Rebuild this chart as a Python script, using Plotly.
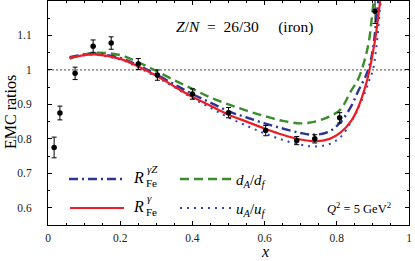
import plotly.graph_objects as go

# ---- data ----
curve_x = [0.06, 0.10, 0.13, 0.20, 0.25, 0.30, 0.35, 0.40, 0.45, 0.50, 0.55, 0.60, 0.65,
           0.70, 0.74, 0.78, 0.81, 0.84, 0.86, 0.88, 0.89, 0.90, 0.91, 0.92, 0.93]
r_gamma = [1.035, 1.043, 1.045, 1.032, 1.010, 0.983, 0.952, 0.922, 0.896, 0.870, 0.850, 0.830, 0.812,
           0.798, 0.793, 0.800, 0.818, 0.852, 0.893, 0.955, 0.997, 1.050, 1.115, 1.200, 1.300]
r_gammaz = [1.037, 1.045, 1.047, 1.035, 1.013, 0.987, 0.958, 0.930, 0.905, 0.880, 0.862, 0.845, 0.830,
            0.817, 0.812, 0.822, 0.848, 0.895, 0.940, 0.982, 1.012, 1.060, 1.150, 1.260, 1.380]
d_ratio = [1.033, 1.045, 1.050, 1.043, 1.022, 0.997, 0.970, 0.945, 0.920, 0.900, 0.882, 0.866, 0.852,
           0.845, 0.850, 0.865, 0.885, 0.940, 0.975, 1.040, 1.090, 1.180, 1.260, 1.360, 1.460]
u_ratio = [1.035, 1.042, 1.044, 1.030, 1.007, 0.980, 0.950, 0.918, 0.890, 0.862, 0.838, 0.816, 0.797,
           0.783, 0.778, 0.785, 0.805, 0.850, 0.890, 0.940, 0.970, 1.000, 1.070, 1.180, 1.280]

data_x = [0.017, 0.033, 0.075, 0.125, 0.175, 0.25, 0.303, 0.40, 0.50, 0.603, 0.689, 0.739, 0.808, 0.906]
data_y = [0.775, 0.875, 0.990, 1.069, 1.078, 1.017, 0.985, 0.930, 0.876, 0.824, 0.795, 0.800, 0.861, 1.170]
data_err = [0.030, 0.020, 0.018, 0.018, 0.018, 0.016, 0.015, 0.015, 0.015, 0.015, 0.012, 0.012, 0.015, 0.035]

x_tickvals = [0, 0.2, 0.4, 0.6, 0.8, 1.0]
x_ticktext = ["0", "0.2", "0.4", "0.6", "0.8", "1"]
y_tickvals = [0.6, 0.7, 0.8, 0.9, 1.0, 1.1]
y_ticktext = ["0.6", "0.7", "0.8", "0.9", "1", "1.1"]

RED = "#ee1c24"
GREEN = "#3a8c2c"
NAVY = "#2b3593"
BLUE = "#3344b8"
FONT = "Liberation Serif"

fig = go.Figure()

# reference line at 1
fig.add_trace(go.Scatter(x=[0, 1], y=[1, 1], mode="lines",
                         line=dict(color="#333333", width=0.9, dash="2px,2px"),
                         hoverinfo="skip", showlegend=False))

fig.add_trace(go.Scatter(x=curve_x, y=d_ratio, mode="lines", line_shape="spline",
                         line=dict(color=GREEN, width=2.4, dash="9px,5px"), showlegend=False))
fig.add_trace(go.Scatter(x=curve_x, y=u_ratio, mode="lines", line_shape="spline",
                         line=dict(color=BLUE, width=2, dash="2px,5px"), showlegend=False))
fig.add_trace(go.Scatter(x=curve_x, y=r_gammaz, mode="lines", line_shape="spline",
                         line=dict(color=NAVY, width=2.4, dash="9px,4px,2px,4px"), showlegend=False))
fig.add_trace(go.Scatter(x=curve_x, y=r_gamma, mode="lines", line_shape="spline",
                         line=dict(color=RED, width=2.2), showlegend=False))

fig.add_trace(go.Scatter(x=data_x, y=data_y, mode="markers",
                         marker=dict(color="black", size=5.5),
                         error_y=dict(type="data", array=data_err, thickness=1, width=2.5, color="black"),
                         showlegend=False, cliponaxis=True))

L, R, T, B = 48, 6, 1, 36
W, H = 415, 261
pw, ph = W - L - R, H - T - B

def px(xp):
    return (xp - L) / pw

def py(yp):
    return 1 - (yp - T) / ph

# legend samples
shapes = [
    dict(type="line", xref="paper", yref="paper", x0=px(69), x1=px(125), y0=py(179), y1=py(179),
         line=dict(color=NAVY, width=2.4, dash="9px,4px,2px,4px")),
    dict(type="line", xref="paper", yref="paper", x0=px(70), x1=px(124), y0=py(208), y1=py(208),
         line=dict(color=RED, width=2.2)),
    dict(type="line", xref="paper", yref="paper", x0=px(180), x1=px(232), y0=py(179), y1=py(179),
         line=dict(color=GREEN, width=2.4, dash="9px,5px")),
    dict(type="line", xref="paper", yref="paper", x0=px(180), x1=px(232), y0=py(208), y1=py(208),
         line=dict(color=BLUE, width=2, dash="2px,5px")),
]

def ann(text, x, y, size, xanchor="left", yanchor="middle", textangle=0):
    return dict(text=text, xref="paper", yref="paper", x=px(x), y=py(y), showarrow=False,
                xanchor=xanchor, yanchor=yanchor, font=dict(family=FONT, size=size, color="black"),
                textangle=textangle, borderpad=0)

annotations = [
    ann("<i>R</i>", 132, 177, 16),
    ann("<i>γZ</i>", 146, 169, 11),
    ann("Fe", 145, 183, 11),
    ann("<i>R</i>", 132, 206, 16),
    ann("<i>γ</i>", 146, 198, 11),
    ann("Fe", 145, 212, 11),
    ann("<i>d</i><sub><i>A</i></sub>/<i>d</i><sub><i>f</i></sub>", 235, 181, 15),
    ann("<i>u</i><sub><i>A</i></sub>/<i>u</i><sub><i>f</i></sub>", 235, 210, 15),
    ann("<i>Q</i><sup>2</sup> = 5 GeV<sup>2</sup>", 326, 208, 12.5),
    ann("<i>Z</i>/<i>N</i>  =  26/30     (iron)", 175, 27, 15.5),
    ann("EMC ratios", 10, 112, 16, xanchor="center", yanchor="middle", textangle=-90),
    ann("<i>x</i>", 265, 252, 16, xanchor="center", yanchor="middle"),
]

axis_common = dict(showline=True, linecolor="black", linewidth=1, mirror="allticks",
                   ticks="inside", ticklen=4, tickwidth=0.8, tickcolor="black",
                   showgrid=False, zeroline=False, ticklabeloverflow="allow",
                   tickfont=dict(family=FONT, size=11.5, color="#222222"))

fig.update_layout(
    width=W, height=H,
    margin=dict(l=L, r=R, t=T, b=B),
    paper_bgcolor="white", plot_bgcolor="white",
    shapes=shapes, annotations=annotations,
    xaxis=dict(range=[0, 1], tickvals=x_tickvals, ticktext=x_ticktext,
               minor=dict(dtick=0.05, tick0=0, ticks="inside", ticklen=2, tickcolor="black", showgrid=False),
               ticklabelstandoff=2, **axis_common),
    yaxis=dict(range=[0.55, 1.2], tickvals=y_tickvals, ticktext=y_ticktext,
               minor=dict(dtick=0.05, tick0=0.55, ticks="inside", ticklen=2, tickcolor="black", showgrid=False),
               ticklabelstandoff=13, **axis_common),
)

# the page's default body margin would offset the figure; remove it
fig.write_html("out.html", config={"displayModeBar": False},
               post_script="document.body.style.margin='0px';")
